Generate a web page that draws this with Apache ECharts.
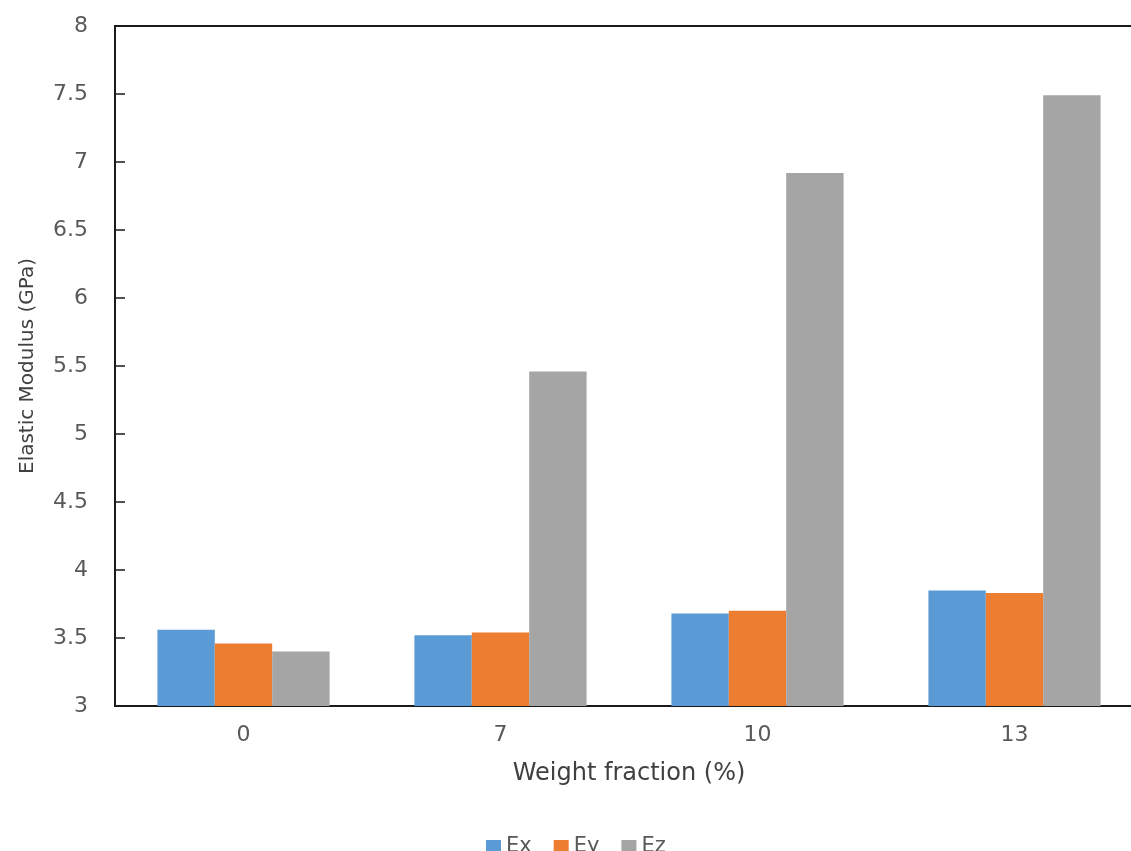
<!DOCTYPE html>
<html>
<head>
<meta charset="utf-8">
<script src="https://cdn.jsdelivr.net/npm/echarts@6/dist/echarts.min.js"></script>
<style>
  html, body { margin: 0; padding: 0; background: #fff; }
  #chart { width: 1131px; height: 851px; }
</style>
</head>
<body>
<div id="chart"></div>
<script>
// Weight fraction categories (%)
const categories = ['0', '7', '10', '13'];
// Elastic modulus in each direction (GPa)
const exValues = [3.56, 3.52, 3.68, 3.85];
const eyValues = [3.46, 3.54, 3.70, 3.83];
const ezValues = [3.40, 5.46, 6.92, 7.49];

const FONT = '"DejaVu Sans", "Open Sans", sans-serif';

const chart = echarts.init(document.getElementById('chart'));

function barSeries(name, data, color) {
  return {
    name: name,
    type: 'bar',
    data: data,
    barGap: '0%',
    barCategoryGap: '33%',
    itemStyle: { color: color },
    emphasis: { disabled: true }
  };
}

chart.setOption({
  animation: false,
  textStyle: { fontFamily: FONT },
  grid: {
    left: 115,
    top: 26,
    width: 1028,
    height: 680,
    outerBoundsMode: 'none',
    show: true,
    borderColor: '#1a1a1a',
    borderWidth: 2,
    backgroundColor: 'transparent'
  },
  legend: {
    left: 481,
    top: 831,
    itemWidth: 15,
    itemHeight: 13,
    itemGap: 22,
    icon: 'rect',
    textStyle: { fontSize: 21, color: '#595959', fontFamily: FONT },
    data: ['Ex', 'Ey', 'Ez']
  },
  xAxis: {
    type: 'category',
    data: categories,
    name: 'Weight fraction (%)',
    nameLocation: 'middle',
    nameGap: 56,
    nameTextStyle: { fontSize: 24, color: '#404040', fontFamily: FONT },
    axisLine: { lineStyle: { color: '#1a1a1a', width: 2 } },
    axisTick: { show: false },
    axisLabel: { fontSize: 22, color: '#595959', margin: 18, fontFamily: FONT },
    splitLine: { show: false }
  },
  yAxis: {
    type: 'value',
    min: 3,
    max: 8,
    interval: 0.5,
    name: 'Elastic Modulus (GPa)',
    nameLocation: 'middle',
    nameRotate: 90,
    nameGap: 77,
    nameTextStyle: { fontSize: 20, color: '#404040', fontFamily: FONT },
    axisLine: { show: true, lineStyle: { color: '#1a1a1a', width: 2 } },
    axisTick: { show: true, inside: true, length: 10, lineStyle: { color: '#1a1a1a', width: 1.5 } },
    axisLabel: { fontSize: 22, color: '#595959', margin: 27, fontFamily: FONT },
    splitLine: { show: false }
  },
  series: [
    barSeries('Ex', exValues, '#5B9BD5'),
    barSeries('Ey', eyValues, '#ED7D31'),
    barSeries('Ez', ezValues, '#A5A5A5')
  ]
});
</script>
</body>
</html>
